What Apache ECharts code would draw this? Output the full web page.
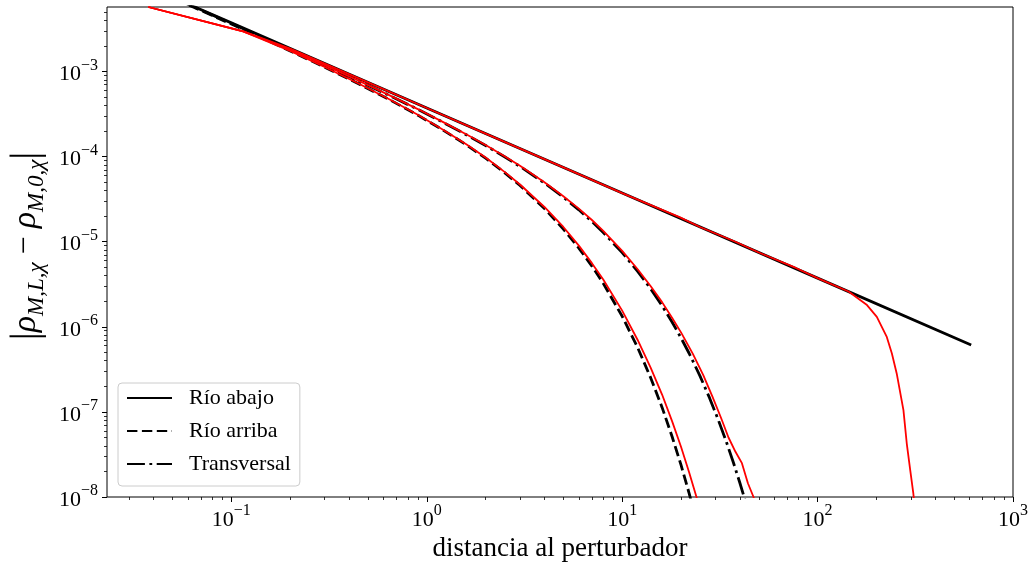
<!DOCTYPE html>
<html>
<head>
<meta charset="utf-8">
<script src="https://cdn.jsdelivr.net/npm/echarts@6/dist/echarts.min.js"></script>
<style>
  html, body { margin: 0; padding: 0; background: #ffffff; }
  #chart { width: 1029px; height: 567px; }
</style>
</head>
<body>
<div id="chart"></div>
<script>
// |rho_{M,L,chi} - rho_{M,0,chi}| against distance to the perturber, log–log.

// Axis limits and major ticks
const xLimits = [0.0231, 1000];
const yLimits = [1e-8, 5.73e-3];
const xMajorTicks = [0.1, 1, 10, 100, 1000];
const yMajorTicks = [1e-8, 1e-7, 1e-6, 1e-5, 1e-4, 1e-3];
const minorMultipliers = [2, 3, 4, 5, 6, 7, 8, 9];

// Legend labels
const legendNames = ['Río abajo', 'Río arriba', 'Transversal'];

// Reference curves (black)
const abajoX = [0.0376, 0.1, 1, 10, 100, 611];
const abajoY = [9.9e-3, 3.73e-3, 3.73e-4, 3.73e-5, 3.73e-6, 6.1e-7];

const arribaX = [0.0376, 0.05, 0.07, 0.1, 0.15, 0.2, 0.3, 0.45, 0.65, 0.9, 1.2, 1.6, 2, 2.5, 3, 4, 5, 6, 7, 8, 10, 12, 14, 16, 18, 20, 22, 24];
const arribaY = [9.82e-3, 7.34e-3, 5.21e-3, 3.61e-3, 2.37e-3, 1.746e-3, 1.127e-3, 7.14e-4, 4.62e-4, 3.07e-4, 2.08e-4, 1.368e-4, 9.58e-5, 6.49e-5, 4.58e-5, 2.46e-5, 1.41e-5, 8.42e-6, 5.17e-6, 3.24e-6, 1.33e-6, 5.70e-7, 2.51e-7, 1.13e-7, 5.14e-8, 2.38e-8, 1.11e-8, 5.2e-9];

const transX = [0.0376, 0.05, 0.07, 0.1, 0.15, 0.2, 0.3, 0.45, 0.65, 0.9, 1.2, 1.6, 2, 2.5, 3, 4, 5, 6, 7, 8, 10, 12, 14, 16, 18, 20, 22, 25, 28, 31, 34, 37, 40, 43, 46];
const transY = [9.87e-3, 7.40e-3, 5.27e-3, 3.67e-3, 2.43e-3, 1.807e-3, 1.186e-3, 7.72e-4, 5.17e-4, 3.59e-4, 2.56e-4, 1.80e-4, 1.352e-4, 9.97e-5, 7.67e-5, 4.90e-5, 3.33e-5, 2.37e-5, 1.73e-5, 1.285e-5, 7.44e-6, 4.49e-6, 2.79e-6, 1.77e-6, 1.14e-6, 7.41e-7, 4.89e-7, 2.65e-7, 1.46e-7, 8.11e-8, 4.56e-8, 2.58e-8, 1.47e-8, 8.45e-9, 4.86e-9];

// Computed curves (red)
const abajoRedX = [0.0376, 0.115, 0.2, 0.5, 1, 2, 5, 10, 19.8, 25, 38, 50, 77, 100, 144, 179, 201, 226, 240, 254, 275, 286, 298, 309, 320];
const abajoRedY = [5.73e-3, 2.96e-3, 1.86e-3, 7.46e-4, 3.73e-4, 1.865e-4, 7.46e-5, 3.73e-5, 1.93e-5, 1.49e-5, 1.0e-5, 7.46e-6, 4.95e-6, 3.73e-6, 2.6e-6, 1.8e-6, 1.31e-6, 7.6e-7, 4.86e-7, 2.83e-7, 1.05e-7, 4.25e-8, 2.06e-8, 1.1e-8, 5e-9];

const arribaRedX = [0.0376, 0.115, 0.2, 0.3, 0.45, 0.65, 0.9, 1.2, 1.6, 2, 2.5, 3, 4, 5, 6, 7, 8, 10, 12, 14, 16, 18, 20, 22, 24, 26];
const arribaRedY = [5.73e-3, 2.96e-3, 1.75e-3, 1.13e-3, 7.17e-4, 4.65e-4, 3.10e-4, 2.10e-4, 1.385e-4, 9.75e-5, 6.62e-5, 4.70e-5, 2.56e-5, 1.49e-5, 9.0e-6, 5.6e-6, 3.6e-6, 1.55e-6, 7.0e-7, 3.3e-7, 1.6e-7, 7.8e-8, 3.9e-8, 1.95e-8, 1.0e-8, 5.0e-9];

const transRedX = [0.0376, 0.115, 0.2, 0.3, 0.45, 0.65, 0.9, 1.2, 1.6, 2, 2.5, 3, 4, 5, 6, 7, 8, 10, 12, 14, 16, 18, 20, 23, 26, 29, 32, 35, 38, 41, 44, 47, 50];
const transRedY = [5.73e-3, 2.96e-3, 1.81e-3, 1.19e-3, 7.75e-4, 5.2e-4, 3.62e-4, 2.58e-4, 1.82e-4, 1.37e-4, 1.01e-4, 7.8e-5, 5.0e-5, 3.42e-5, 2.45e-5, 1.80e-5, 1.34e-5, 7.8e-6, 4.75e-6, 3.0e-6, 1.95e-6, 1.28e-6, 8.6e-7, 4.8e-7, 2.7e-7, 1.5e-7, 8.6e-8, 5.0e-8, 3.4e-8, 2.5e-8, 1.45e-8, 1.0e-8, 6.2e-9];

const FONT = '"Liberation Serif", "DejaVu Serif", serif';

function pairs(xs, ys) {
  return xs.map((x, i) => [x, ys[i]]);
}

function minorTicks(limits) {
  const out = [];
  const lo = Math.floor(Math.log10(limits[0]));
  const hi = Math.ceil(Math.log10(limits[1]));
  for (let e = lo; e < hi; e++) {
    minorMultipliers.forEach(m => {
      const v = m * Math.pow(10, e);
      if (v > limits[0] && v < limits[1]) out.push(v);
    });
  }
  return out;
}

function powerLabel(value) {
  const e = Math.round(Math.log10(value));
  const s = e < 0 ? '\u2212' + (-e) : String(e);
  return '{b|10}{s|' + s + '}';
}

const labelRich = {
  b: { fontFamily: FONT, fontSize: 22, color: '#000', lineHeight: 28, verticalAlign: 'bottom' },
  s: { fontFamily: FONT, fontSize: 16, color: '#000', lineHeight: 15, verticalAlign: 'top' }
};

function majorAxis(limits, ticks, extra) {
  return Object.assign({
    type: 'log',
    logBase: 10,
    min: limits[0],
    max: limits[1],
    axisLine: { show: false },
    axisTick: { show: true, inside: false, length: 5, lineStyle: { color: '#000', width: 1 }, customValues: ticks },
    axisLabel: { show: true, customValues: ticks, formatter: powerLabel, rich: labelRich, color: '#000' },
    splitLine: { show: false },
    minorTick: { show: false },
    minorSplitLine: { show: false }
  }, extra);
}

function minorAxis(limits, extra) {
  return Object.assign({
    type: 'log',
    logBase: 10,
    min: limits[0],
    max: limits[1],
    axisLine: { show: false },
    axisTick: { show: true, inside: false, length: 3, lineStyle: { color: '#000', width: 0.8 }, customValues: minorTicks(limits) },
    axisLabel: { show: false },
    splitLine: { show: false }
  }, extra);
}

const BLACK = '#000000';
const RED = '#ff0000';

function lineSeries(name, data, color, width, type, z) {
  return {
    name: name,
    type: 'line',
    data: data,
    showSymbol: false,
    symbol: 'none',
    clip: true,
    z: z,
    lineStyle: { color: color, width: width, type: type, cap: 'butt' },
    itemStyle: { color: color },
    emphasis: { disabled: true },
    animation: false
  };
}

const chart = echarts.init(document.getElementById('chart'), null, { renderer: 'canvas' });

chart.setOption({
  animation: false,
  backgroundColor: '#ffffff',
  grid: {
    left: 107, right: 16, top: 7, bottom: 70,
    show: true, borderColor: '#000', borderWidth: 1, backgroundColor: 'transparent',
    containLabel: false, outerBoundsMode: 'none'
  },
  xAxis: [
    majorAxis(xLimits, xMajorTicks, {
      position: 'bottom',
      axisLabel: { show: true, customValues: xMajorTicks, formatter: powerLabel, rich: labelRich, color: '#000', margin: 6 },
      name: 'distancia al perturbador',
      nameLocation: 'middle',
      nameGap: 36,
      nameTextStyle: { fontFamily: FONT, fontSize: 27, color: '#000' }
    }),
    minorAxis(xLimits, { position: 'bottom' })
  ],
  yAxis: [
    majorAxis(yLimits, yMajorTicks, {
      position: 'left',
      axisLabel: { show: true, customValues: yMajorTicks, formatter: powerLabel, rich: labelRich, color: '#000', margin: 9 }
    }),
    minorAxis(yLimits, { position: 'left' })
  ],
  legend: {
    data: legendNames,
    orient: 'vertical',
    left: 118,
    top: 383,
    itemWidth: 45,
    itemHeight: 22,
    itemGap: 11,
    padding: [4, 9, 11, 8],
    backgroundColor: 'rgba(255,255,255,0.8)',
    borderColor: '#cccccc',
    borderWidth: 1,
    borderRadius: 4,
    selectedMode: false,
    itemStyle: { opacity: 0 },
    textStyle: { fontFamily: FONT, fontSize: 22, color: '#000', padding: [0, 0, 0, 12] }
  },
  graphic: [{
    type: 'text',
    x: 26,
    y: 246,
    rotation: Math.PI / 2,
    style: {
      text: '{bar||}{r|ρ}{s|M,L,χ}{n| − }{r|ρ}{s|M,0,χ}{bar||}',
      align: 'center',
      verticalAlign: 'middle',
      rich: {
        bar: { fontFamily: FONT, fontSize: 40, fill: '#000', lineHeight: 44 },
        r: { fontFamily: FONT, fontStyle: 'italic', fontSize: 34, fill: '#000', lineHeight: 44 },
        s: { fontFamily: FONT, fontStyle: 'italic', fontSize: 23, fill: '#000', lineHeight: 26, verticalAlign: 'bottom' },
        n: { fontFamily: FONT, fontSize: 32, fill: '#000', lineHeight: 44 }
      }
    }
  }],
  series: [
    lineSeries('Río abajo', pairs(abajoX, abajoY), BLACK, 2.8, 'solid', 2),
    lineSeries('Río arriba', pairs(arribaX, arribaY), BLACK, 2.8, [10.4, 4.5], 2),
    lineSeries('Transversal', pairs(transX, transY), BLACK, 2.8, [17.9, 4.5, 2.8, 4.5], 2),
    lineSeries('', pairs(abajoRedX, abajoRedY), RED, 1.8, 'solid', 3),
    lineSeries('', pairs(arribaRedX, arribaRedY), RED, 1.8, 'solid', 3),
    lineSeries('', pairs(transRedX, transRedY), RED, 1.8, 'solid', 3)
  ]
});
</script>
</body>
</html>
